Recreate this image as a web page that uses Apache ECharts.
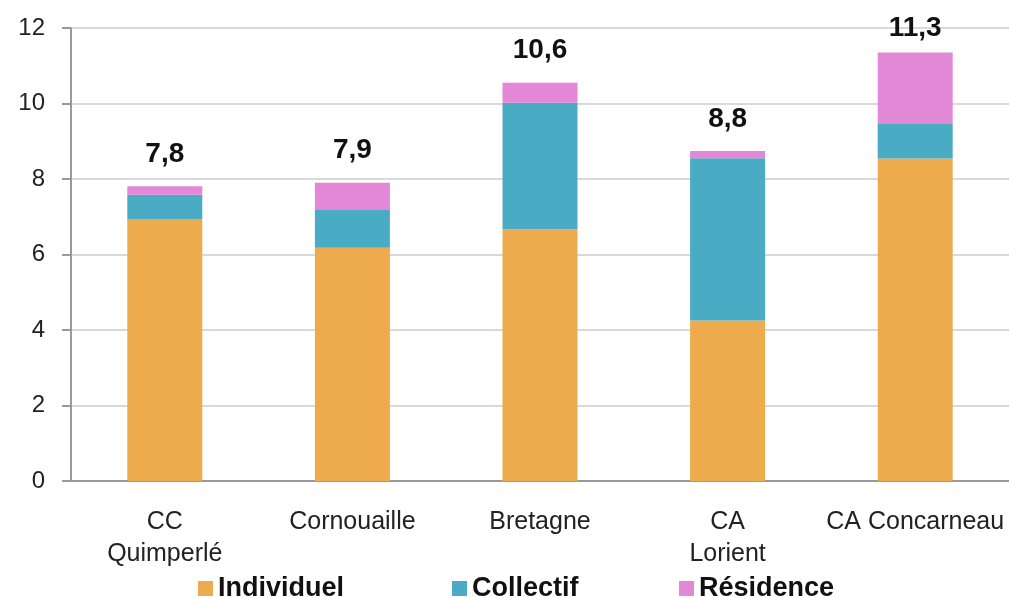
<!DOCTYPE html>
<html><head><meta charset="utf-8">
<script src="https://cdn.jsdelivr.net/npm/echarts@6/dist/echarts.min.js"></script>
<style>html,body{margin:0;padding:0;background:#fff}#c{width:1009px;height:598px}</style>
</head><body><div id="c"></div>
<script>
const categories = ["CC\nQuimperlé", "Cornouaille", "Bretagne", "CA\nLorient", "CA Concarneau"];
const individuel = [6.93, 6.18, 6.67, 4.25, 8.54];
const collectif = [0.65, 1.00, 3.35, 4.30, 0.92];
const residence = [0.23, 0.72, 0.53, 0.19, 1.89];
const totals = ["7,8", "7,9", "10,6", "8,8", "11,3"];
const seriesNames = ["Individuel", "Collectif", "Résidence"];
const colors = ["#EDAB4E", "#4AABC4", "#E388D6"];
const yTicks = {min: 0, max: 12, interval: 2};

const font = "Liberation Sans";
const chart = echarts.init(document.getElementById('c'));
function legend(name, left) {
  return {data: [name], left: left, top: 570, itemWidth: 15, itemHeight: 15, icon: 'rect',
    textStyle: {fontFamily: font, fontSize: 27, fontWeight: 'bold', color: '#111'}};
}
// labels near the top of the plot sit a little closer to their bar (as in the original)
const residenceData = residence.map((v, i) => {
  const total = individuel[i] + collectif[i] + v;
  return total > yTicks.max - 1 ? {value: v, label: {distance: 10}} : v;
});
chart.setOption({
  animation: false,
  color: colors,
  grid: {left: 71, top: 28, width: 940, height: 453},
  legend: [legend(seriesNames[0], 193), legend(seriesNames[1], 447), legend(seriesNames[2], 674)],
  xAxis: {type: 'category', data: categories,
    axisLine: {lineStyle: {color: '#999', width: 2}}, axisTick: {show: false},
    axisLabel: {fontFamily: font, fontSize: 25, color: '#222', margin: 25, lineHeight: 32, interval: 0}},
  yAxis: {type: 'value', min: yTicks.min, max: yTicks.max, interval: yTicks.interval,
    axisLine: {show: true, lineStyle: {color: '#999', width: 2}},
    axisTick: {show: true, length: 9, lineStyle: {color: '#999', width: 2}},
    splitLine: {lineStyle: {color: '#ccc', width: 1.5}},
    axisLabel: {fontFamily: font, fontSize: 24, color: '#222', margin: 26}},
  series: [
    {name: seriesNames[0], type: 'bar', stack: 't', data: individuel, barWidth: 75},
    {name: seriesNames[1], type: 'bar', stack: 't', data: collectif, barWidth: 75},
    {name: seriesNames[2], type: 'bar', stack: 't', data: residenceData, barWidth: 75,
      label: {show: true, position: 'top', distance: 18, formatter: p => totals[p.dataIndex],
        fontFamily: font, fontSize: 28, fontWeight: 'bold', color: '#111'}}
  ]
});
</script></body></html>
